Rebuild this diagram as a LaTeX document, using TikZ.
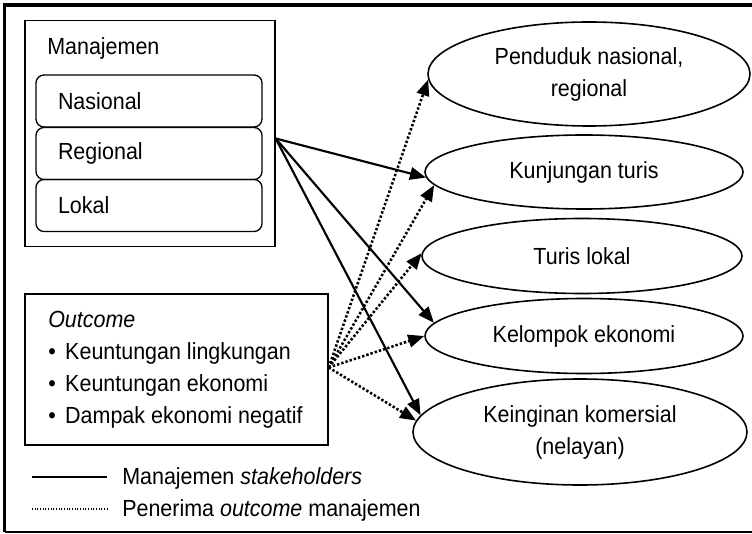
\documentclass[tikz,border=0pt]{standalone}
\usepackage{fontspec}
\setmainfont[FakeStretch=0.92]{Liberation Sans}
\usetikzlibrary{shapes.geometric,arrows.meta,calc}

\begin{document}
\begin{tikzpicture}[x=0.75pt,y=-0.75pt,
  font=\fontsize{17.5}{24}\selectfont,
  box/.style={draw,line width=1pt,inner sep=0pt},
  level/.style={draw,line width=1pt,rounded corners=6pt,minimum width=169.5pt,
    minimum height=39pt,text width=136.5pt,align=left,inner xsep=16.5pt,inner ysep=0pt},
  group/.style={draw,ellipse,line width=1.2pt,inner sep=0pt,align=center},
  label/.style={anchor=west,inner sep=0pt},
  mgmtarrow/.style={line width=1.6pt,-{Triangle[length=12pt,width=9.5pt]}},
  recvarrow/.style={line width=1.9pt,dash pattern=on 1.8pt off 1.5pt,
    -{Triangle[length=12pt,width=9.5pt]}},
]
\useasboundingbox (0,0) rectangle (752,534);

% frame
\draw[line width=3pt] (3,5) -- (752,5);
\draw[line width=2.2pt] (4.5,4) -- (4.5,532);
\draw[line width=0.8pt] (4.5,532) -- (752,532);

% management levels
\node[box,minimum width=187.5pt,minimum height=169.5pt] (mgmt) at (150,133.5) {};
\node[label] (mtitle) at (47,48) {Manajemen};
\node[level] (nas) at (149,101) {Nasional};
\node[level] (reg) at (149,153.5) {Regional};
\node[level] (lok) at (149,205.5) {Lokal};

% outcomes
\node[box,minimum width=227.25pt,minimum height=113.25pt] (outc) at (176.5,369.5) {};
\node[label,align=left] (outtxt) at (48,370) {\textit{Outcome}\\
  \makebox[12.75pt][l]{\textbullet}Keuntungan lingkungan\\
  \makebox[12.75pt][l]{\textbullet}Keuntungan ekonomi\\
  \makebox[12.75pt][l]{\textbullet}Dampak ekonomi negatif};

% stakeholder groups
\node[group,minimum width=241.5pt,minimum height=78pt] (pend) at (589,74) {Penduduk nasional,\\regional};
\node[group,minimum width=238.5pt,minimum height=55.5pt] (kunj) at (584,172) {Kunjungan turis};
\node[group,minimum width=240pt,minimum height=56.25pt] (turis) at (582,256) {Turis lokal};
\node[group,minimum width=238.5pt,minimum height=56.25pt] (kel) at (584,336) {Kelompok ekonomi};
\node[group,minimum width=250.5pt,minimum height=79.5pt] (kein) at (580,432) {Keinginan komersial\\(nelayan)};

% connectors
\coordinate (msrc) at ($(mgmt.east)+(0,5)$);
\draw[mgmtarrow] (msrc) -- (kunj.182);
\draw[mgmtarrow] (msrc) -- (kel.175);
\draw[mgmtarrow] (msrc) -- (kein.174);

\coordinate (osrc) at ($(outc.east)+(0,-2)$);
\draw[recvarrow] (osrc) -- (pend.182);
\draw[recvarrow] (osrc) -- (kunj.185);
\draw[recvarrow] (osrc) -- (turis.179);
\draw[recvarrow] (osrc) -- (kel.180);
\draw[recvarrow] (osrc) -- (kein.176);

% legend
\coordinate (s1) at (32,477);
\coordinate (s2) at (107,477);
\draw[line width=1.5pt] (s1) -- (s2);
\node[label] (leg1) at (122,478) {Manajemen \textit{stakeholders}};
\coordinate (d1) at (32,509);
\coordinate (d2) at (107,509);
\draw[line width=0.9pt,dash pattern=on 0.8pt off 1.2pt] (d1) -- (d2);
\node[label] (leg2) at (122,510) {Penerima \textit{outcome} manajemen};
\end{tikzpicture}
\end{document}
